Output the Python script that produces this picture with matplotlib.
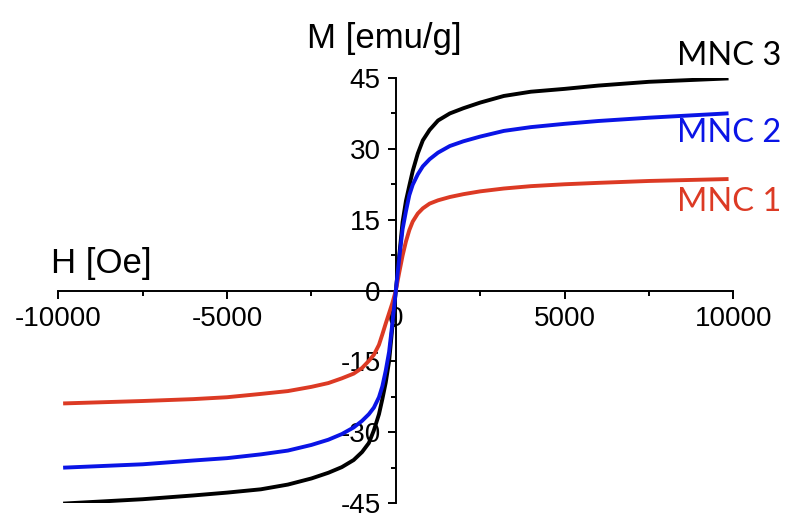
import numpy as np
import matplotlib
matplotlib.use("Agg")
import matplotlib.pyplot as plt
from matplotlib.ticker import MultipleLocator

plt.rcParams['font.family'] = ['Liberation Sans', 'DejaVu Sans']

# field H [Oe]
H = [-9800, -7500, -6000, -5000, -4000, -3200, -2500, -2000, -1600, -1250, -1000, -800, -650, -500, -400, -300, -200, -100,
     0, 100, 200, 300, 400, 500, 650, 800, 1000, 1250, 1600, 2000, 2500, 3200, 4000, 5000, 6000, 7500, 9800]

# magnetisation M [emu/g]
mnc3 = [-45.1, -44.2, -43.4, -42.8, -42.1, -41.1, -39.8, -38.6, -37.4, -35.9, -34.2, -32.3, -29.6, -26.2, -23.0, -19.5, -15.0, -7.5,
        0.0, 7.3, 14.5, 19.0, 22.2, 25.3, 29.0, 31.8, 34.0, 36.0, 37.5, 38.6, 39.8, 41.2, 42.1, 42.7, 43.4, 44.2, 44.9]
mnc2 = [-37.5, -36.8, -36.0, -35.5, -34.7, -33.9, -32.7, -31.6, -30.4, -29.0, -27.6, -26.2, -24.8, -22.6, -20.3, -17.0, -13.0, -6.8,
        0.0, 6.8, 13.0, 16.8, 20.2, 22.4, 24.6, 26.3, 27.8, 29.2, 30.6, 31.6, 32.6, 33.8, 34.6, 35.3, 35.9, 36.6, 37.5]
mnc1 = [-23.9, -23.4, -23.0, -22.6, -21.9, -21.3, -20.4, -19.6, -18.6, -17.6, -16.4, -14.9, -13.6, -11.5, -9.3, -7.0, -4.8, -2.6,
        0.0, 3.8, 7.4, 10.4, 12.8, 14.6, 16.3, 17.4, 18.4, 19.1, 19.8, 20.4, 21.0, 21.6, 22.1, 22.5, 22.8, 23.2, 23.6]

labels = ['MNC 3', 'MNC 2', 'MNC 1']
colors = ['#000000', '#0a14e6', '#dc3a24']

fig = plt.figure(figsize=(7.85, 5.15), dpi=100)
ax = fig.add_axes([0.0743, 0.0233, 0.8599, 0.8252])

ax.plot(H, mnc3, color=colors[0], lw=2.8, zorder=3, solid_joinstyle='round')
ax.plot(H, mnc1, color=colors[2], lw=2.8, zorder=3, solid_joinstyle='round')
ax.plot(H, mnc2, color=colors[1], lw=2.8, zorder=3, solid_joinstyle='round')

ax.set_xlim(-10000, 10000)
ax.set_ylim(-45, 45)

ax.spines['left'].set_position(('data', 0))
ax.spines['bottom'].set_position(('data', 0))
ax.spines['top'].set_visible(False)
ax.spines['right'].set_visible(False)
for s in ['left', 'bottom']:
    ax.spines[s].set_linewidth(1.4)

ax.set_xticks([-10000, -5000, 0, 5000, 10000])
ax.set_xticklabels(['-10000', '-5000', '0', '5000', '10000'])
ax.set_yticks([-45, -30, -15, 0, 15, 30, 45])
ax.set_yticklabels(['-45', '-30', '-15', '0', '15', '30', '45'])
ax.xaxis.set_minor_locator(MultipleLocator(2500))
ax.yaxis.set_minor_locator(MultipleLocator(7.5))

ax.tick_params(which='major', direction='out', length=6, width=1.4, labelsize=20)
ax.tick_params(which='minor', direction='out', length=3.8, width=1.4)
ax.tick_params(axis='y', pad=5)
ax.tick_params(axis='x', pad=5)

fig.text(0.490, 0.926, 'M [emu/g]', fontsize=25, ha='center', va='center')
fig.text(0.1287, 0.4874, 'H [Oe]', fontsize=25, ha='center', va='center')

ys = [0.891, 0.742, 0.608]
for lab, c, y in zip(labels, colors, ys):
    fig.text(0.862, y, lab, fontsize=23.5, color=c, ha='left', va='center', family=['Lato', 'DejaVu Sans'])

fig.savefig('out.png', dpi=100)
